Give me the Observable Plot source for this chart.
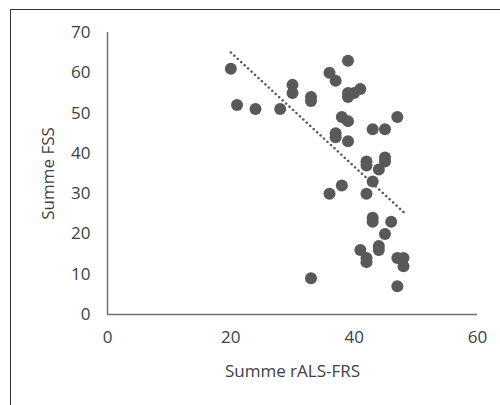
<!DOCTYPE html>
<html>
<head>
<meta charset="utf-8">
<script src="https://cdn.jsdelivr.net/npm/d3@7"></script>
<script src="https://cdn.jsdelivr.net/npm/@observablehq/plot@0.6"></script>
<style>
html,body{margin:0;padding:0;background:#fff;overflow:hidden;width:500px;height:405px;}
#frame{position:absolute;left:10px;top:9px;width:520px;height:420px;border:1.5px solid #333;box-sizing:border-box;}
#chart{position:absolute;left:0;top:0;}
</style>
</head>
<body>
<div id="frame"></div>
<div id="chart"></div>
<script>
const rals = [20,21,24,28,30,30,33,33,36,37,39,39,39,40,41,38,39,37,37,39,43,45,47,42,42,45,45,44,43,36,38,42,43,43,46,45,44,44,41,42,42,47,48,48,33,47];
const fss  = [61,52,51,51,57,55,54,53,60,58,63,54,55,55,56,49,48,45,44,43,46,46,49,38,37,39,38,36,33,30,32,30,24,23,23,20,17,16,16,14,13,14,14,12,9,7];
const xTicks = [0,20,40,60];
const yTicks = [0,10,20,30,40,50,60,70];
const xTitle = "Summe rALS-FRS";
const yTitle = "Summe FSS";

const data = rals.map((x,i)=>({x, y: fss[i]}));
const grey = "#595959";
const textGrey = "#404040";

const chart = Plot.plot({
  width: 500,
  height: 405,
  marginLeft: 107,
  marginRight: 23,
  marginTop: 32,
  marginBottom: 91,
  style: {fontFamily: "'Open Sans', sans-serif", fontSize: "17px", color: textGrey, background: "transparent"},
  x: {domain: [0,60]},
  y: {domain: [0,70]},
  marks: [
    Plot.ruleY([0], {stroke: "#6f6f6f", strokeWidth: 1.5}),
    Plot.ruleX([0], {stroke: "#6f6f6f", strokeWidth: 1.5}),
    Plot.axisX({ticks: xTicks, tickSize: 0, tickPadding: 16, label: xTitle, labelAnchor: "center", labelOffset: 62, labelArrow: "none", fill: textGrey}),
    Plot.axisY({ticks: yTicks, tickSize: 0, tickPadding: 17, label: yTitle, labelAnchor: "center", labelOffset: 66, labelArrow: "none", fill: textGrey}),
    Plot.dot(data, {x: "x", y: "y", r: 6, fill: grey, stroke: "none"}),
    Plot.linearRegressionY(data, {x: "x", y: "y", ci: 0, stroke: grey, strokeWidth: 2.5, strokeDasharray: "0.1,4.6", strokeLinecap: "round"})
  ]
});
document.getElementById("chart").appendChild(chart);
</script>
</body>
</html>
